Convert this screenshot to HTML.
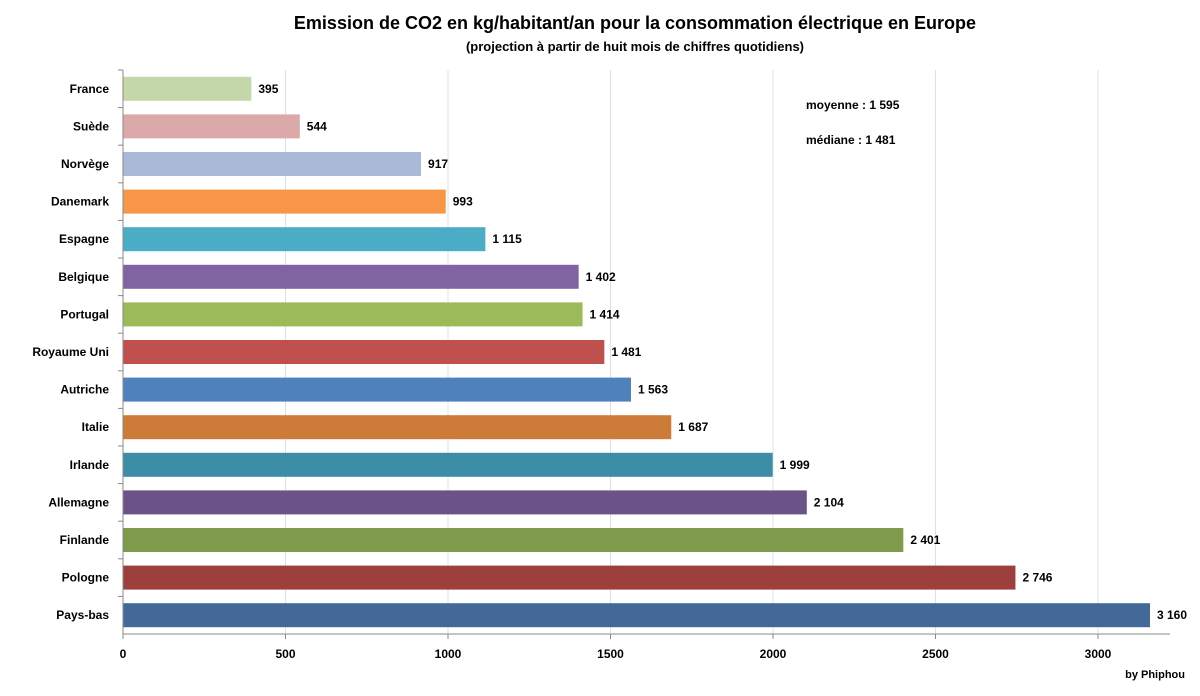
<!DOCTYPE html>
<html><head><meta charset="utf-8">
<style>
body{margin:0;background:#fff;font-family:"Liberation Sans",sans-serif;}
svg text{font-family:"Liberation Sans",sans-serif;font-weight:bold;}
</style></head>
<body>
<svg id="chart" width="1200" height="691" viewBox="0 0 1200 691" xmlns="http://www.w3.org/2000/svg">
<rect width="1200" height="691" fill="#fff"/>
<text x="635" y="29" text-anchor="middle" font-size="18" fill="#000">Emission de CO2 en kg/habitant/an pour la consommation électrique en Europe</text>
<text x="635" y="51" text-anchor="middle" font-size="13" fill="#000">(projection à partir de huit mois de chiffres quotidiens)</text>
<g id="grid"></g>
<g id="bars"></g>
<g id="axis"></g>
<text x="806" y="109" font-size="12">moyenne : 1 595</text>
<text x="806" y="144" font-size="12">médiane : 1 481</text>
<text x="1185" y="678" text-anchor="end" font-size="11">by Phiphou</text>
</svg>
<script>
const categories=["France","Suède","Norvège","Danemark","Espagne","Belgique","Portugal","Royaume Uni","Autriche","Italie","Irlande","Allemagne","Finlande","Pologne","Pays-bas"];
const values=[395,544,917,993,1115,1402,1414,1481,1563,1687,1999,2104,2401,2746,3160];
const labels=["395","544","917","993","1 115","1 402","1 414","1 481","1 563","1 687","1 999","2 104","2 401","2 746","3 160"];
const colors=["#c4d7a8","#dba9a9","#a9b9d8","#f79646","#4bacc6","#8064a2","#9bbb59","#c0504d","#4f81bd","#cd7b38","#3b8ea5","#6b5287","#7e9b4b","#9c3f3d","#426997"];
const ticks=[0,500,1000,1500,2000,2500,3000];
const NS="http://www.w3.org/2000/svg";
const x0=123,pxPer=0.325,plotTop=70,plotBottom=634,bh=24;
const step=(plotBottom-plotTop)/categories.length;
const xs=v=>x0+v*pxPer;
const ys=i=>plotTop+step*i+step/2;
function mk(t,a,p){const e=document.createElementNS(NS,t);for(const k in a)e.setAttribute(k,a[k]);p.appendChild(e);return e;}
const grid=document.getElementById('grid'),bars=document.getElementById('bars'),axis=document.getElementById('axis');
ticks.forEach(t=>{
  if(t>0){const g=mk('line',{x1:xs(t),x2:xs(t),y1:plotTop,y2:plotBottom,stroke:'#d9e1f0','stroke-width':1},grid);
  
  }
  const tk=mk('line',{x1:xs(t),x2:xs(t),y1:plotBottom,y2:plotBottom+5,stroke:'#888'},axis);
  
  
  const tl=mk('text',{x:xs(t),y:plotBottom+24,'text-anchor':'middle','font-size':12},axis);tl.textContent=t;
  
  
});
const ax=mk('line',{x1:x0,x2:1170,y1:plotBottom,y2:plotBottom,stroke:'#888'},axis);


const ay=mk('line',{x1:x0,x2:x0,y1:plotTop,y2:plotBottom,stroke:'#888'},axis);


categories.forEach((c,i)=>{
  const tk=mk('line',{x1:x0-5,x2:x0,y1:plotTop+step*i,y2:plotTop+step*i,stroke:'#888'},axis);
  
  
  const r=mk('rect',{x:x0,y:ys(i)-bh/2,width:xs(values[i])-x0,height:bh,fill:colors[i]},bars);
  
  
  const vl=mk('text',{x:xs(values[i])+7,y:ys(i)+4,'font-size':12},bars);vl.textContent=labels[i];
  
  
  const cl=mk('text',{x:109,y:ys(i)+4,'text-anchor':'end','font-size':12},axis);cl.textContent=c;
  
  
});
</script>
</body></html>
